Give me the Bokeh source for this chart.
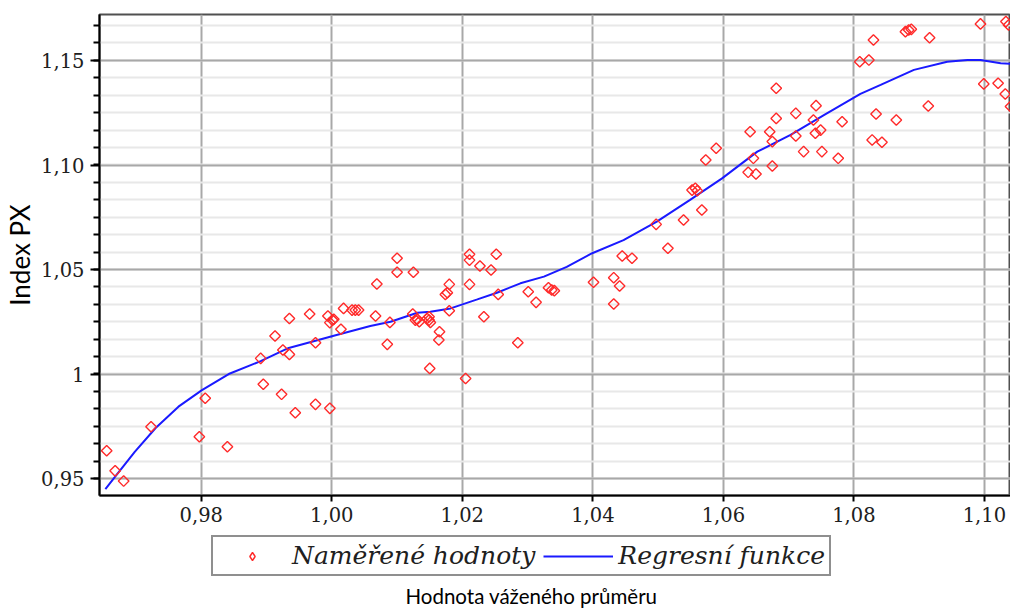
from bokeh.plotting import figure
from bokeh.layouts import column
from bokeh.models import (FixedTicker, Range1d, Legend, LegendItem, Label, ColumnDataSource)
from bokeh.embed import file_html
from bokeh.resources import INLINE
import numpy as np

# ---- data ----
meas_x = [0.9655, 0.9668, 0.9681, 0.9723, 0.9797, 0.9806, 0.9840, 0.9891, 0.9895, 0.9913,
          0.9923, 0.9925, 0.9935, 0.9935, 0.9944, 0.9966, 0.9975, 0.9975, 0.9994, 0.9997,
          0.9997, 1.0001, 1.0003, 1.0014, 1.0018, 1.0031, 1.0036, 1.0041, 1.0067, 1.0069,
          1.0085, 1.0089, 1.0100, 1.0100, 1.0125, 1.0124, 1.0128, 1.0131, 1.0134, 1.0146,
          1.0149, 1.0149, 1.0151, 1.0165, 1.0164, 1.0150, 1.0180, 1.0177, 1.0174, 1.0180,
          1.0205, 1.0211, 1.0211, 1.0227, 1.0244, 1.0252, 1.0211, 1.0233, 1.0255, 1.0285,
          1.0301, 1.0313, 1.0332, 1.0337, 1.0341, 1.0401, 1.0432, 1.0441, 1.0432, 1.0445,
          1.0460, 1.0515, 1.0497, 1.0539, 1.0567, 1.0552, 1.0557, 1.0560, 1.0573, 1.0589,
          1.0641, 1.0646, 1.0638, 1.0650, 1.0671, 1.0675, 1.0675, 1.0681, 1.0681, 1.0711,
          1.0711, 1.0723, 1.0742, 1.0738, 1.0741, 1.0749, 1.0751, 1.0776, 1.0782, 1.0809,
          1.0823, 1.0830, 1.0879, 1.0884, 1.0888, 1.0916, 1.0834, 1.0865, 1.0828, 1.0843,
          1.0914, 1.0994, 1.1033, 1.1037, 1.0999, 1.1021, 1.1032, 1.1040]
meas_y = [0.9633, 0.9537, 0.9488, 0.9748, 0.9700, 0.9884, 0.9652, 1.0075, 0.9951, 1.0182,
          0.9903, 1.0115, 1.0094, 1.0266, 0.9815, 1.0287, 0.9855, 1.0150, 1.0278, 0.9836,
          1.0246, 1.0258, 1.0262, 1.0214, 1.0314, 1.0306, 1.0306, 1.0306, 1.0278, 1.0431,
          1.0142, 1.0247, 1.0554, 1.0487, 1.0487, 1.0287, 1.0258, 1.0262, 1.0250, 1.0266,
          1.0274, 1.0258, 1.0247, 1.0202, 1.0163, 1.0027, 1.0429, 1.0389, 1.0381, 1.0303,
          0.9979, 1.0573, 1.0545, 1.0517, 1.0498, 1.0573, 1.0429, 1.0274, 1.0381, 1.0150,
          1.0394, 1.0343, 1.0413, 1.0402, 1.0399, 1.0439, 1.0461, 1.0421, 1.0335, 1.0565,
          1.0554, 1.0602, 1.0716, 1.0737, 1.0785, 1.0880, 1.0889, 1.0877, 1.1024, 1.1080,
          1.1159, 1.1032, 1.0965, 1.0957, 1.1159, 1.1112, 1.0995, 1.1223, 1.1367, 1.1247,
          1.1139, 1.1064, 1.1284, 1.1215, 1.1152, 1.1167, 1.1064, 1.1032, 1.1207, 1.1494,
          1.1502, 1.1598, 1.1638, 1.1646, 1.1649, 1.1609, 1.1244, 1.1215, 1.1120, 1.1109,
          1.1282, 1.1675, 1.1686, 1.1670, 1.1388, 1.1391, 1.1340, 1.1280]

reg_x = [0.9653, 0.9668, 0.9698, 0.9730, 0.9765, 0.9801, 0.9842, 0.9891, 0.9934, 0.9975,
         1.0003, 1.0059, 1.0090, 1.0131, 1.0151, 1.0182, 1.0223, 1.0253, 1.0289, 1.0325,
         1.0360, 1.0399, 1.0447, 1.0498, 1.0549, 1.0598, 1.0652, 1.0703, 1.0754, 1.0810,
         1.0841, 1.0892, 1.0943, 1.0974, 1.0994, 1.1025, 1.1045]
reg_y = [0.9450, 0.9509, 0.9628, 0.9742, 0.9844, 0.9923, 1.0000, 1.0062, 1.0125, 1.0159,
         1.0183, 1.0230, 1.0250, 1.0293, 1.0298, 1.0314, 1.0357, 1.0389, 1.0434, 1.0466,
         1.0513, 1.0578, 1.0641, 1.0729, 1.0833, 1.0936, 1.1064, 1.1144, 1.1239, 1.1340,
         1.1383, 1.1455, 1.1494, 1.1502, 1.1502, 1.1487, 1.1483]

x_ticks = [0.98, 1.00, 1.02, 1.04, 1.06, 1.08, 1.10]
x_tick_labels = ["0,98", "1,00", "1,02", "1,04", "1,06", "1,08", "1,10"]
y_ticks = [0.95, 1.00, 1.05, 1.10, 1.15]
y_tick_labels = ["0,95", "1", "1,05", "1,10", "1,15"]

legend_labels = ["Naměřené hodnoty", "Regresní funkce"]
x_title = "Hodnota váženého průměru"
y_title = "Index PX"

PT_COLOR = "#ff2a2a"
LINE_COLOR = "#1a1aff"
DIAMOND = dict(marker="square", angle=0.785398, size=7.5, fill_color=None,
               line_color=PT_COLOR, line_width=1.4)

# ---- main figure ----
p = figure(width=1010, height=531, output_backend="svg", toolbar_location=None,
           x_range=Range1d(0.9644, 1.104), y_range=Range1d(0.9419, 1.172),
           min_border_left=99, min_border_right=0, min_border_top=14, min_border_bottom=36)
p.background_fill_color = "white"
p.border_fill_color = "white"
p.outline_line_color = "#505050"
p.outline_line_width = 2

y_minor = list(np.round(np.arange(0.9417, 1.1751, 0.05 / 6), 5))
p.xaxis.ticker = FixedTicker(ticks=x_ticks, minor_ticks=[])
p.yaxis.ticker = FixedTicker(ticks=y_ticks, minor_ticks=y_minor)
p.xaxis.major_label_overrides = {t: l for t, l in zip(x_ticks, x_tick_labels)}
p.yaxis.major_label_overrides = {t: l for t, l in zip(y_ticks, y_tick_labels)}

for ax in (p.xaxis[0], p.yaxis[0]):
    ax.axis_line_color = "black"
    ax.axis_line_width = 2
    ax.major_tick_line_color = "black"
    ax.major_tick_line_width = 2
    ax.major_tick_in = 0
    ax.minor_tick_in = 0
    ax.major_label_text_font = "DejaVu Serif"
    ax.major_label_text_font_size = "19.5px"
    ax.major_label_text_color = "#202020"

p.yaxis.major_tick_out = 9
p.yaxis.minor_tick_out = 6
p.yaxis.minor_tick_line_color = "black"
p.yaxis.minor_tick_line_width = 2
p.yaxis.major_label_standoff = 6
p.yaxis.axis_label = y_title
p.yaxis.axis_label_text_font = "Lato"
p.yaxis.axis_label_text_font_style = "normal"
p.yaxis.axis_label_text_font_size = "26px"
p.yaxis.axis_label_text_color = "black"
p.yaxis.axis_label_standoff = 2

p.xaxis.major_tick_out = 6
p.xaxis.minor_tick_line_color = None
p.xaxis.major_label_standoff = 5

p.xgrid.grid_line_color = "#a8a8a8"
p.xgrid.grid_line_width = 2
p.ygrid.grid_line_color = "#a8a8a8"
p.ygrid.grid_line_width = 2
p.ygrid.minor_grid_line_color = "#e8e8e8"
p.ygrid.minor_grid_line_width = 2

src_m = ColumnDataSource(dict(x=meas_x, y=meas_y))
src_r = ColumnDataSource(dict(x=reg_x, y=reg_y))
p.line("x", "y", source=src_r, line_color=LINE_COLOR, line_width=2)
p.scatter("x", "y", source=src_m, **DIAMOND)

# ---- strip under the axis: legend and x title ----
# (this strip's frame lines up with the main frame, which starts ~102 px from the left)
q = figure(width=1010, height=77, output_backend="svg", toolbar_location=None,
           x_axis_type=None, y_axis_type=None,
           x_range=Range1d(0, 1), y_range=Range1d(0, 1),
           min_border=0, min_border_left=0, min_border_right=0,
           min_border_top=0, min_border_bottom=0)
q.outline_line_color = None
q.background_fill_color = "white"
q.border_fill_color = "white"
nan = float("nan")
leg_pts = q.scatter(x=[nan], y=[nan], marker="diamond", size=10, fill_color=None,
                    line_color=PT_COLOR, line_width=1.4)
leg_line = q.line(x=[nan, nan], y=[nan, nan], line_color=LINE_COLOR, line_width=2)

legend = Legend(items=[LegendItem(label=legend_labels[0], renderers=[leg_pts]),
                       LegendItem(label=legend_labels[1], renderers=[leg_line])],
                orientation="horizontal", location=(112, 32),
                label_text_font="DejaVu Serif", label_text_font_style="italic",
                label_text_font_size="25px", label_text_color="#202020",
                glyph_width=70, glyph_height=20, label_standoff=5, spacing=8,
                padding=4, margin=0, border_line_color="#202020", border_line_width=2,
                background_fill_color="white")
q.add_layout(legend, "center")

q.add_layout(Label(x=432, y=13, x_units="screen", y_units="screen", text=x_title,
                   text_align="center", text_baseline="middle", text_font="Lato",
                   text_font_size="20.5px", text_color="black"))

layout = column(p, q, spacing=0)
open("out.html", "w").write(file_html(layout, INLINE))
